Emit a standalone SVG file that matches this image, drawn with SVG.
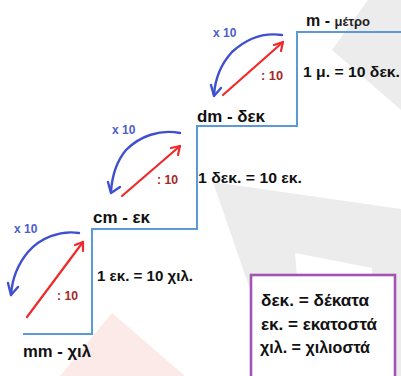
<svg xmlns="http://www.w3.org/2000/svg" width="401" height="376" viewBox="0 0 401 376">
<style>
.stair{fill:none;stroke:#5b9bd5;stroke-width:2}
.blue{fill:none;stroke:#3f4fcf;stroke-width:2.4;stroke-linecap:round;stroke-linejoin:round}
.red{fill:none;stroke:#ee2a2a;stroke-width:2.2;stroke-linecap:round;stroke-linejoin:round}
.lbl{font-family:"Liberation Sans","DejaVu Sans",sans-serif;font-weight:bold;fill:#111}
.xl{font-family:"Liberation Sans","DejaVu Sans",sans-serif;font-weight:bold;font-size:12px;fill:#4c5dcc}
.dl{font-family:"Liberation Sans","DejaVu Sans",sans-serif;font-weight:bold;font-size:13px;fill:#a3282a}
</style>
<rect width="401" height="376" fill="#fff"/>
<g id="watermark">
<polygon points="332,50 368,0 401,0 401,110" fill="#ececec"/>
<polygon points="213,182 401,209 401,376 280,376" fill="#ececec"/>
<polygon points="295,253 372,268 372,376 305,376" fill="#fff"/>
<polygon points="112,313 60,376 185,376" fill="#fbeae8"/>
</g>
<g id="connectors">
<polyline class="stair" points="23,334 92,334 92,229 197,229 197,126 297,126 297,32 401,32"/>
<g id="step1-arrows">
<path class="blue" d="M79,233 C60,230 40,238 28,252 C18,264 12,280 11,295"/>
<polyline class="blue" points="8,283 11,295 18,287"/>
<path class="red" d="M27,317 L83,242"/>
<polyline class="red" points="75,245 83,242 83,251"/>
</g>
<g id="step2-arrows">
<path class="blue" d="M180,133 C160,129 140,136 126,150 C116,162 112,176 111,192"/>
<polyline class="blue" points="108,182 111,193 120,187"/>
<path class="red" d="M122,196 L180,146"/>
<polyline class="red" points="171,148 180,146 178,155"/>
</g>
<g id="step3-arrows">
<path class="blue" d="M282,35 C262,32 245,40 232,52 C221,64 215,80 214,95"/>
<polyline class="blue" points="211,85 214,96 221,88"/>
<path class="red" d="M223,95 L283,42"/>
<polyline class="red" points="274,45 283,42 281,51"/>
</g>
</g>
<g id="labels-arrows">
<text class="xl" x="14" y="233">x 10</text>
<text class="dl" x="57" y="300" textLength="21" lengthAdjust="spacingAndGlyphs">: 10</text>
<text class="xl" x="112" y="134">x 10</text>
<text class="dl" x="157" y="184" textLength="21" lengthAdjust="spacingAndGlyphs">: 10</text>
<text class="xl" x="213" y="37">x 10</text>
<text class="dl" x="261" y="80" textLength="22" lengthAdjust="spacingAndGlyphs">: 10</text>
</g>
<g id="node-mm">
<text class="lbl" x="23" y="357" font-size="16" textLength="68" lengthAdjust="spacingAndGlyphs">mm - χιλ</text>
</g>
<g id="node-cm">
<text class="lbl" x="93" y="223" font-size="16" textLength="57" lengthAdjust="spacingAndGlyphs">cm - εκ</text>
</g>
<g id="node-dm">
<text class="lbl" x="197" y="122" font-size="16" textLength="68" lengthAdjust="spacingAndGlyphs">dm - δεκ</text>
</g>
<g id="node-m">
<text class="lbl" x="306" y="26" font-size="16">m - <tspan font-size="13" fill="#222">μέτρο</tspan></text>
</g>
<g id="eq1">
<text class="lbl" x="97" y="281" font-size="15" textLength="96" lengthAdjust="spacingAndGlyphs">1 εκ. = 10 χιλ.</text>
</g>
<g id="eq2">
<text class="lbl" x="198" y="183" font-size="15" textLength="104" lengthAdjust="spacingAndGlyphs">1 δεκ. = 10 εκ.</text>
</g>
<g id="eq3">
<text class="lbl" x="303" y="77" font-size="15" textLength="97" lengthAdjust="spacingAndGlyphs">1 μ. = 10 δεκ.</text>
</g>
<g id="legend">
<rect x="251" y="275" width="144" height="110" fill="#fff" stroke="#a353b3" stroke-width="2.6"/>
<text class="lbl" x="261" y="306" font-size="16" textLength="108" lengthAdjust="spacingAndGlyphs">δεκ. = δέκατα</text>
<text class="lbl" x="261" y="330" font-size="16" textLength="116" lengthAdjust="spacingAndGlyphs">εκ. = εκατοστά</text>
<text class="lbl" x="260" y="353" font-size="16" textLength="110" lengthAdjust="spacingAndGlyphs">χιλ. = χιλιοστά</text>
</g>
</svg>
